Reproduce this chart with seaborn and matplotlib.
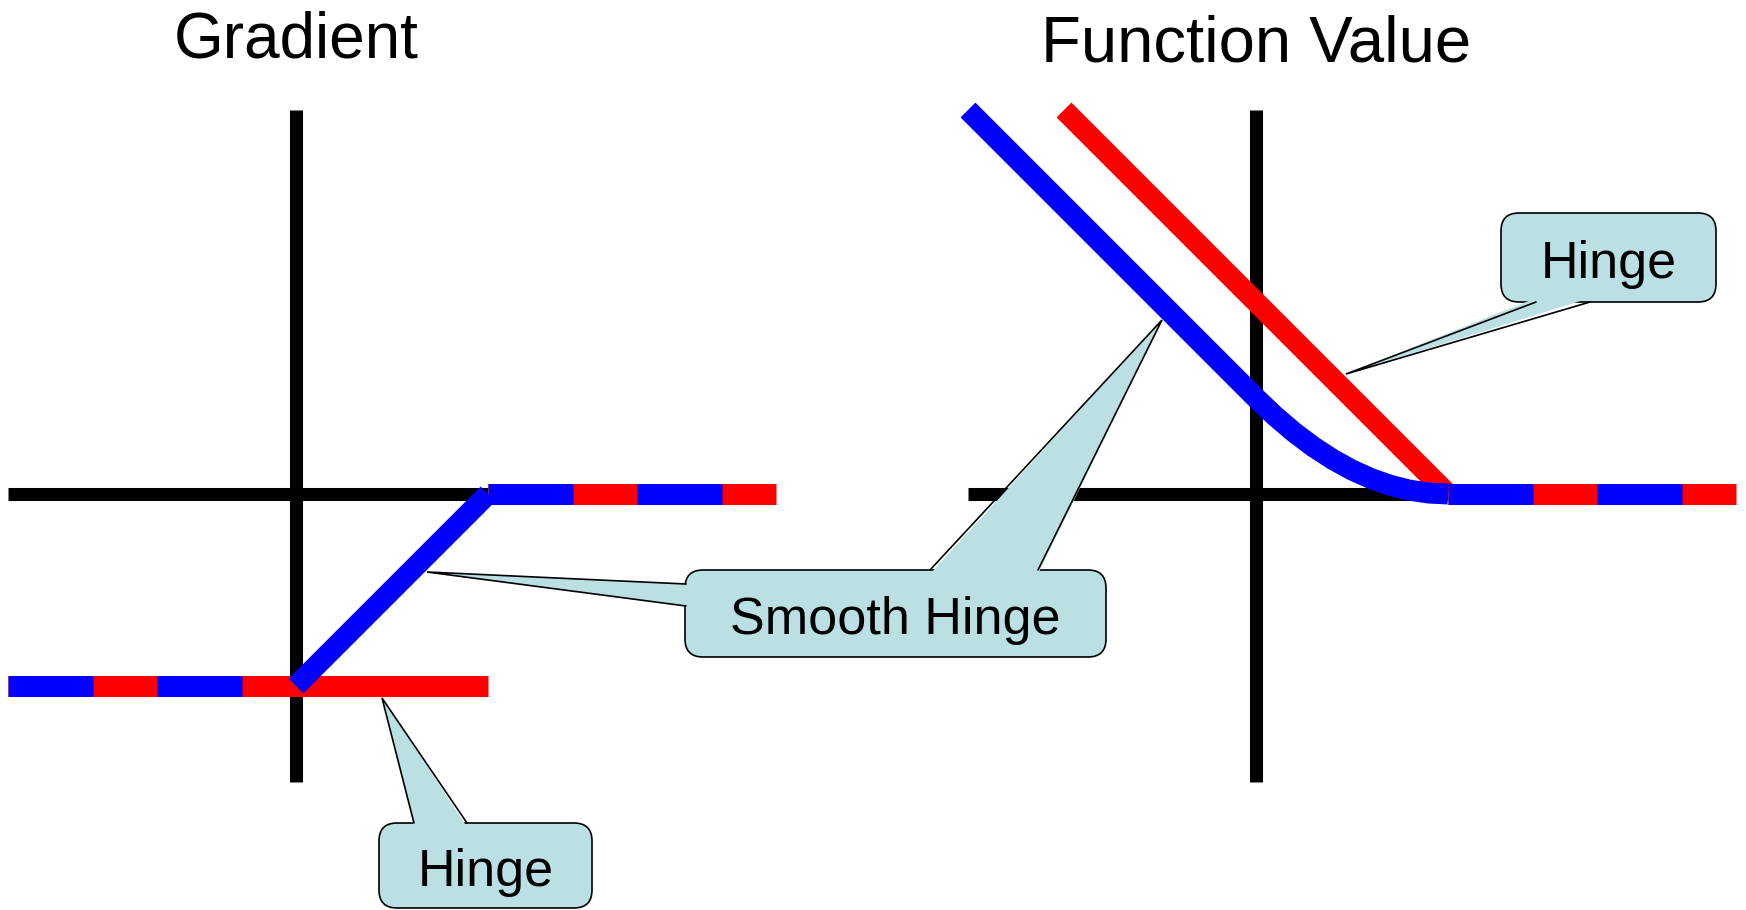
import matplotlib
matplotlib.use("Agg")
import matplotlib.pyplot as plt
import seaborn as sns
from matplotlib.patches import FancyBboxPatch, Polygon

# Hinge vs smooth hinge diagram: gradient (left) and function value (right)
sns.set_theme(style="white")
plt.rcParams["font.family"] = ["Liberation Sans", "DejaVu Sans"]
plt.rcParams["lines.scale_dashes"] = False

# ---- data ----
# axes cross (same for both panels)
axis_h_x = [-1.5, 1.0]
axis_h_y = [0.0, 0.0]
axis_v_x = [0.0, 0.0]
axis_v_y = [-1.5, 2.0]

# gradient panel
grad_lo_x = [-1.5, 1.0]
hinge_grad_lo = [-1.0, -1.0]
grad_hi_x = [1.0, 2.5]
grad_hi = [0.0, 0.0]
smooth_flat_x = [-1.5, 0.0]
smooth_grad_flat = [-1.0, -1.0]
ramp_x = [0.0, 1.0]
smooth_grad_ramp = [-1.0, 0.0]

# function value panel
hinge_x = [-1.0, 1.0]
hinge_val = [2.0, 0.0]
smooth_x = [-1.5, 0.0, 0.1, 0.2, 0.3, 0.4, 0.5, 0.6, 0.7, 0.8, 0.9, 1.0]
smooth_val = [2.0, 0.5, 0.405, 0.32, 0.245, 0.18, 0.125, 0.08, 0.045, 0.02, 0.005, 0.0]
flat_x = [1.0, 2.5]
flat_val = [0.0, 0.0]

titles = ["Gradient", "Function Value"]
callout_labels = ["Hinge", "Smooth Hinge", "Hinge"]

BLUE = "#0000FF"
RED = "#FF0000"
BOX = "#BAE0E3"
DASH = (0, (61.2, 46.1))
LW_AX = 9.4
LW_C = 15.1


def draw(ax, x, y, color, lw, dashed=False, z=2):
    sns.lineplot(x=x, y=y, ax=ax, color=color, linewidth=lw,
                 estimator=None, sort=False, zorder=z)
    line = ax.lines[-1]
    line.set_solid_capstyle("butt")
    line.set_dash_capstyle("butt")
    if dashed:
        line.set_linestyle(DASH)
    return line


fig = plt.figure(figsize=(17.46, 9.10), dpi=100)

# left panel: origin at pixel (296, 494), 192 px per unit
axL = fig.add_axes([0, 0, 0.5, 1])
axR = fig.add_axes([0.5, 0, 0.5, 1])
ylim = (-(910 - 494) / 192, 494 / 192)
axL.set_xlim(-296 / 192, (873 - 296) / 192)
axR.set_xlim((873 - 1256) / 192, (1746 - 1256) / 192)
for ax in (axL, axR):
    ax.set_ylim(*ylim)
    ax.axis("off")
    draw(ax, axis_h_x, axis_h_y, "black", LW_AX, z=1)
    draw(ax, axis_v_x, axis_v_y, "black", LW_AX, z=1)

# gradient
draw(axL, grad_lo_x, hinge_grad_lo, RED, LW_C, z=2)
draw(axL, grad_hi_x, grad_hi, RED, LW_C, z=2)
draw(axL, smooth_flat_x, smooth_grad_flat, BLUE, LW_C, dashed=True, z=3)
draw(axL, grad_hi_x, grad_hi, BLUE, LW_C, dashed=True, z=3)
draw(axL, ramp_x, smooth_grad_ramp, BLUE, LW_C, z=4)

# function value
draw(axR, hinge_x, hinge_val, RED, LW_C, z=2)
draw(axR, flat_x, flat_val, RED, LW_C, z=2)
draw(axR, flat_x, flat_val, BLUE, LW_C, dashed=True, z=3)
draw(axR, smooth_x, smooth_val, BLUE, LW_C, z=4)

# overlay in pixel coordinates for titles and callouts
ov = fig.add_axes([0, 0, 1, 1], zorder=5)
ov.set_xlim(0, 1746)
ov.set_ylim(910, 0)
ov.axis("off")
ov.patch.set_alpha(0)

ov.text(296, 57, titles[0], ha="center", va="baseline", fontsize=46, color="black")
ov.text(1256, 62, titles[1], ha="center", va="baseline", fontsize=47, color="black")


def callout(label, box, wedges):
    x0, y0, x1, y1 = box
    ov.add_patch(FancyBboxPatch((x0, y0), x1 - x0, y1 - y0,
                                boxstyle="round,pad=0,rounding_size=18",
                                facecolor=BOX, edgecolor="black", linewidth=1.2, zorder=1))
    for (b1, b2, tip, inward) in wedges:
        dx, dy = inward
        poly = [(b1[0] + dx, b1[1] + dy), tip, (b2[0] + dx, b2[1] + dy)]
        ov.add_patch(Polygon(poly, closed=True, facecolor=BOX, edgecolor="none", zorder=2))
        ov.plot([b1[0], tip[0], b2[0]], [b1[1], tip[1], b2[1]],
                color="black", linewidth=1.2, zorder=3, solid_joinstyle="miter")
    ov.text((x0 + x1) / 2, (y0 + y1) / 2 + 7, label, ha="center", va="center",
            fontsize=37.5, color="black", zorder=4)


callout(callout_labels[0], (379, 823, 592, 908),
        [((414, 823), (467, 823), (382, 698), (0, 4))])
callout(callout_labels[1], (685, 570, 1106, 657),
        [((686, 584), (686, 606), (427, 572), (4, 0)),
         ((930, 570), (1038, 570), (1162, 320), (0, 4))])
callout(callout_labels[2], (1501, 213, 1716, 302),
        [((1536, 302), (1590, 302), (1346, 374), (0, -4))])

fig.savefig("out.png", dpi=100)
